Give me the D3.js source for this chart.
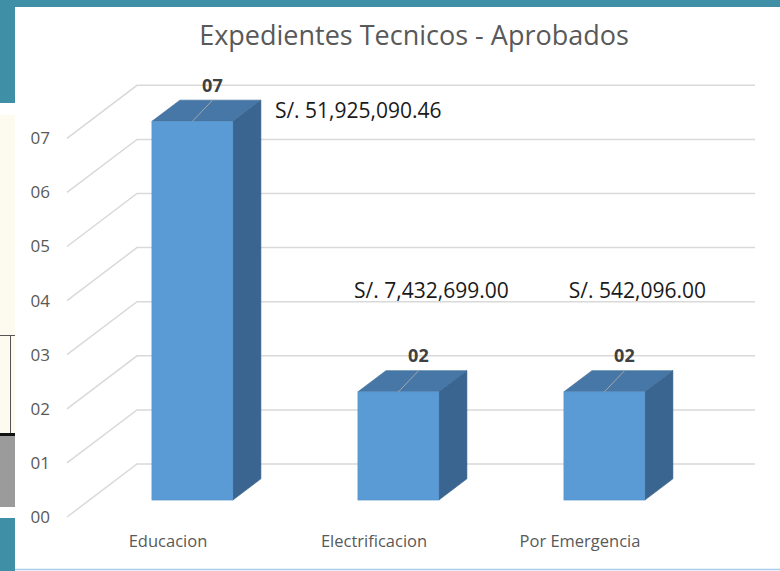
<!DOCTYPE html>
<html>
<head>
<meta charset="utf-8">
<script src="https://cdn.jsdelivr.net/npm/d3@7"></script>
<style>
  body { margin: 0; background: #fff; }
  svg { display: block; font-family: "Open Sans", "Noto Sans", sans-serif; }
</style>
</head>
<body>
<svg id="chart"></svg>
<script>
// Data
const categories = ["Educacion", "Electrificacion", "Por Emergencia"];
const counts = [7, 2, 2];
const countLabels = ["07", "02", "02"];
const amounts = ["S/. 51,925,090.46", "S/. 7,432,699.00", "S/. 542,096.00"];
const yTicks = [0, 1, 2, 3, 4, 5, 6, 7];
const title = "Expedientes Tecnicos - Aprobados";

const width = 780;
const height = 571;

const svg = d3.select("#chart")
  .attr("width", width)
  .attr("height", height);

// slide decoration around the chart (screenshot edges)
const teal = "#3f8fa6";
svg.append("rect").attr("x", 0).attr("y", 0).attr("width", width).attr("height", 7).attr("fill", teal);
svg.append("rect").attr("x", 0).attr("y", 0).attr("width", 15).attr("height", 103).attr("fill", teal);
svg.append("rect").attr("x", 0).attr("y", 115).attr("width", 15).attr("height", 318).attr("fill", "#fdfaef");
svg.append("line").attr("x1", 0).attr("x2", 15).attr("y1", 335.5).attr("y2", 335.5).attr("stroke", "#555");
svg.append("line").attr("x1", 10.5).attr("x2", 10.5).attr("y1", 335).attr("y2", 433).attr("stroke", "#555");
svg.append("rect").attr("x", 0).attr("y", 433).attr("width", 15).attr("height", 3).attr("fill", "#111");
svg.append("rect").attr("x", 0).attr("y", 436).attr("width", 15).attr("height", 71).attr("fill", "#9b9b9b");
svg.append("rect").attr("x", 0).attr("y", 518).attr("width", 15).attr("height", 53).attr("fill", teal);
svg.append("line").attr("x1", 15).attr("x2", width).attr("y1", 569.5).attr("y2", 569.5)
  .attr("stroke", "#a8cbe9").attr("stroke-width", 1.5);

// 3D frame: front plane + depth offset
const depth = { dx: 70, dy: -53 };
const y = d3.scaleLinear().domain([0, 7]).range([517, 138.3]);
const x = d3.scaleBand().domain(categories).range([67, 685]).padding(0);
const backRight = 755;

// gridlines (diagonal floor edge + back wall)
const grid = svg.append("g").attr("stroke", "#d9d9d9").attr("stroke-width", 1.5).attr("fill", "none");
yTicks.forEach(v => {
  const x0 = x.range()[0], y0 = y(v);
  grid.append("polyline")
    .attr("points", `${x0},${y0} ${x0 + depth.dx},${y0 + depth.dy} ${backRight},${y0 + depth.dy}`);
});

// y tick labels
svg.append("g")
  .selectAll("text")
  .data(yTicks)
  .join("text")
  .attr("x", 50)
  .attr("y", d => y(d))
  .attr("dy", "0.35em")
  .attr("text-anchor", "end")
  .attr("fill", "#595959")
  .style("font-size", "17px")
  .text(d3.format("02d"));

// bars
const barFront = 0.32;   // bar placed at this depth fraction
const barDepth = 0.4;    // bar depth as fraction of full depth
const barW = x.bandwidth() * 0.393;
const ox = depth.dx * barFront, oy = depth.dy * barFront;
const bx = depth.dx * barDepth, by = depth.dy * barDepth;

const bars = categories.map((c, i) => {
  const cx = x(c) + x.bandwidth() / 2 + ox;
  return {
    cat: c, i,
    left: cx - barW / 2,
    right: cx + barW / 2,
    top: y(counts[i]) + oy,
    base: y(0) + oy,
    cx
  };
});

const gBars = svg.append("g");
bars.forEach(b => {
  // side
  gBars.append("path")
    .attr("d", `M${b.right},${b.base} L${b.right + bx},${b.base + by} L${b.right + bx},${b.top + by} L${b.right},${b.top} Z`)
    .attr("fill", "#3a6591").attr("stroke", "#335a80").attr("stroke-width", 0.6);
  // top
  gBars.append("path")
    .attr("d", `M${b.left},${b.top} L${b.left + bx},${b.top + by} L${b.right + bx},${b.top + by} L${b.right},${b.top} Z`)
    .attr("fill", "#4677a6").attr("stroke", "#3d6a96").attr("stroke-width", 0.6);
  // front
  gBars.append("rect")
    .attr("x", b.left).attr("y", b.top)
    .attr("width", barW).attr("height", b.base - b.top)
    .attr("fill", "#5b9bd5").attr("stroke", "#5290c8").attr("stroke-width", 0.6);
});

// count labels with leader lines
bars.forEach(b => {
  svg.append("line")
    .attr("x1", b.cx).attr("y1", b.top)
    .attr("x2", b.cx + 20).attr("y2", b.top - 21)
    .attr("stroke", "#a6a6a6").attr("stroke-width", 1);
  svg.append("text")
    .attr("x", b.cx + 20).attr("y", b.top - 36)
    .attr("dy", "0.35em")
    .attr("text-anchor", "middle")
    .attr("fill", "#404040")
    .style("font-size", "18px").style("font-weight", "bold")
    .text(countLabels[b.i]);
});

// amount labels
bars.forEach(b => {
  const t = svg.append("text")
    .attr("fill", "#1a1a1a")
    .style("font-size", "21px")
    .text(amounts[b.i]);
  if (b.top - 94 < 150) {
    t.attr("x", b.right + 42).attr("y", b.top - 3);
  } else {
    t.attr("x", (b.left + b.right + bx) / 2 + 19).attr("y", b.top - 94)
      .attr("text-anchor", "middle");
  }
});

// category labels
svg.append("g")
  .selectAll("text")
  .data(categories)
  .join("text")
  .attr("x", d => x(d) + x.bandwidth() / 2 - 2)
  .attr("y", 547)
  .attr("text-anchor", "middle")
  .attr("fill", "#595959")
  .style("font-size", "16.5px")
  .text(d => d);

// title
svg.append("text")
  .attr("x", 414).attr("y", 45)
  .attr("text-anchor", "middle")
  .attr("fill", "#595959")
  .style("font-size", "27px")
  .text(title);
</script>
</body>
</html>
